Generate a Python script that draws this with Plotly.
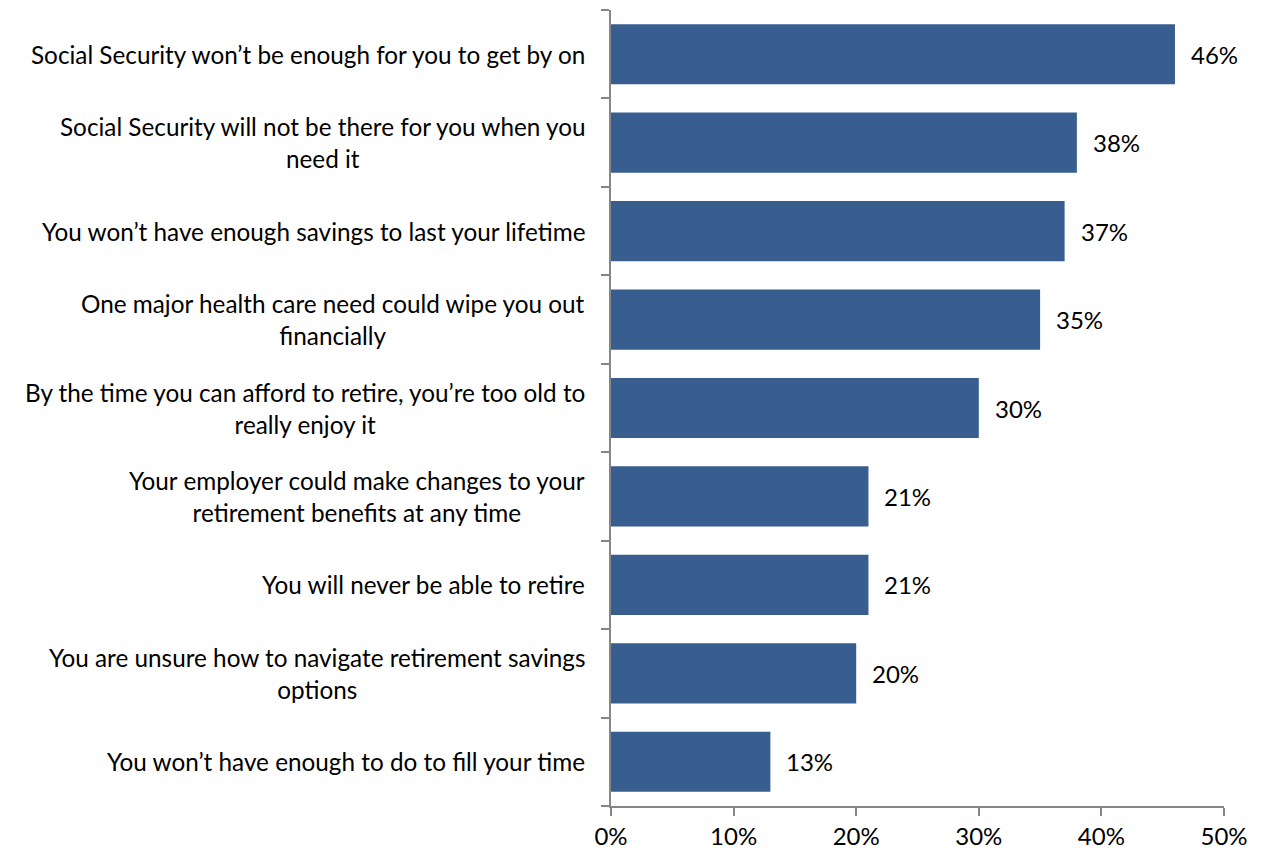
import plotly.graph_objects as go

# Survey responses: share of respondents agreeing with each retirement concern
concerns = [
    "Social Security won’t be enough for you to get by on",
    "Social Security will not be there for you when you<br>need it",
    "You won’t have enough savings to last your lifetime",
    "One major health care need could wipe you out<br>financially",
    "By the time you can afford to retire, you’re too old to<br>really enjoy it",
    "Your employer could make changes to your<br>retirement benefits at any time",
    "You will never be able to retire",
    "You are unsure how to navigate retirement savings<br>options",
    "You won’t have enough to do to fill your time",
]
shares = [0.46, 0.38, 0.37, 0.35, 0.30, 0.21, 0.21, 0.20, 0.13]

x_ticks = [0, 0.1, 0.2, 0.3, 0.4, 0.5]
x_tick_labels = ["0%", "10%", "20%", "30%", "40%", "50%"]

FONT = "Lato, 'Open Sans', sans-serif"
BAR_COLOR = "#375E8F"
AXIS_COLOR = "#868686"

fig = go.Figure(
    go.Bar(
        x=shares,
        y=list(range(len(concerns))),
        orientation="h",
        marker=dict(color=BAR_COLOR, line=dict(width=0)),
        hoverinfo="skip",
    )
)

annotations = []
for i, (label, v) in enumerate(zip(concerns, shares)):
    # category label, centred block right-aligned against the axis
    annotations.append(dict(
        x=0, y=i, xref="paper", yref="y", text=label, showarrow=False,
        xanchor="right", yanchor="middle", align="center", xshift=-24,
        font=dict(family=FONT, size=24.3, color="#000000"),
    ))
    # value label beside the bar end
    annotations.append(dict(
        x=v, y=i, xref="x", yref="y", text=f"{round(v * 100)}%", showarrow=False,
        xanchor="left", yanchor="middle", xshift=14,
        font=dict(family=FONT, size=24, color="#000000"),
    ))

fig.update_layout(
    width=1261, height=853,
    margin=dict(l=611, r=37, t=10, b=47),
    paper_bgcolor="white", plot_bgcolor="white",
    bargap=0.32,
    showlegend=False,
    annotations=annotations,
    xaxis=dict(
        range=[0, 0.5], tickvals=x_ticks, ticktext=x_tick_labels,
        showgrid=False, zeroline=False, automargin=False,
        showline=True, linecolor=AXIS_COLOR, linewidth=2,
        ticks="outside", ticklen=8, tickwidth=2, tickcolor=AXIS_COLOR,
        tickfont=dict(family=FONT, size=24, color="#000000"),
    ),
    yaxis=dict(
        range=[len(concerns) - 0.5, -0.5],
        tickvals=[i - 0.5 for i in range(len(concerns) + 1)],
        ticktext=[""] * (len(concerns) + 1),
        showgrid=False, zeroline=False, automargin=False,
        showline=True, linecolor=AXIS_COLOR, linewidth=2,
        ticks="outside", ticklen=8, tickwidth=2, tickcolor=AXIS_COLOR,
    ),
)

fig.write_html("out.html")
